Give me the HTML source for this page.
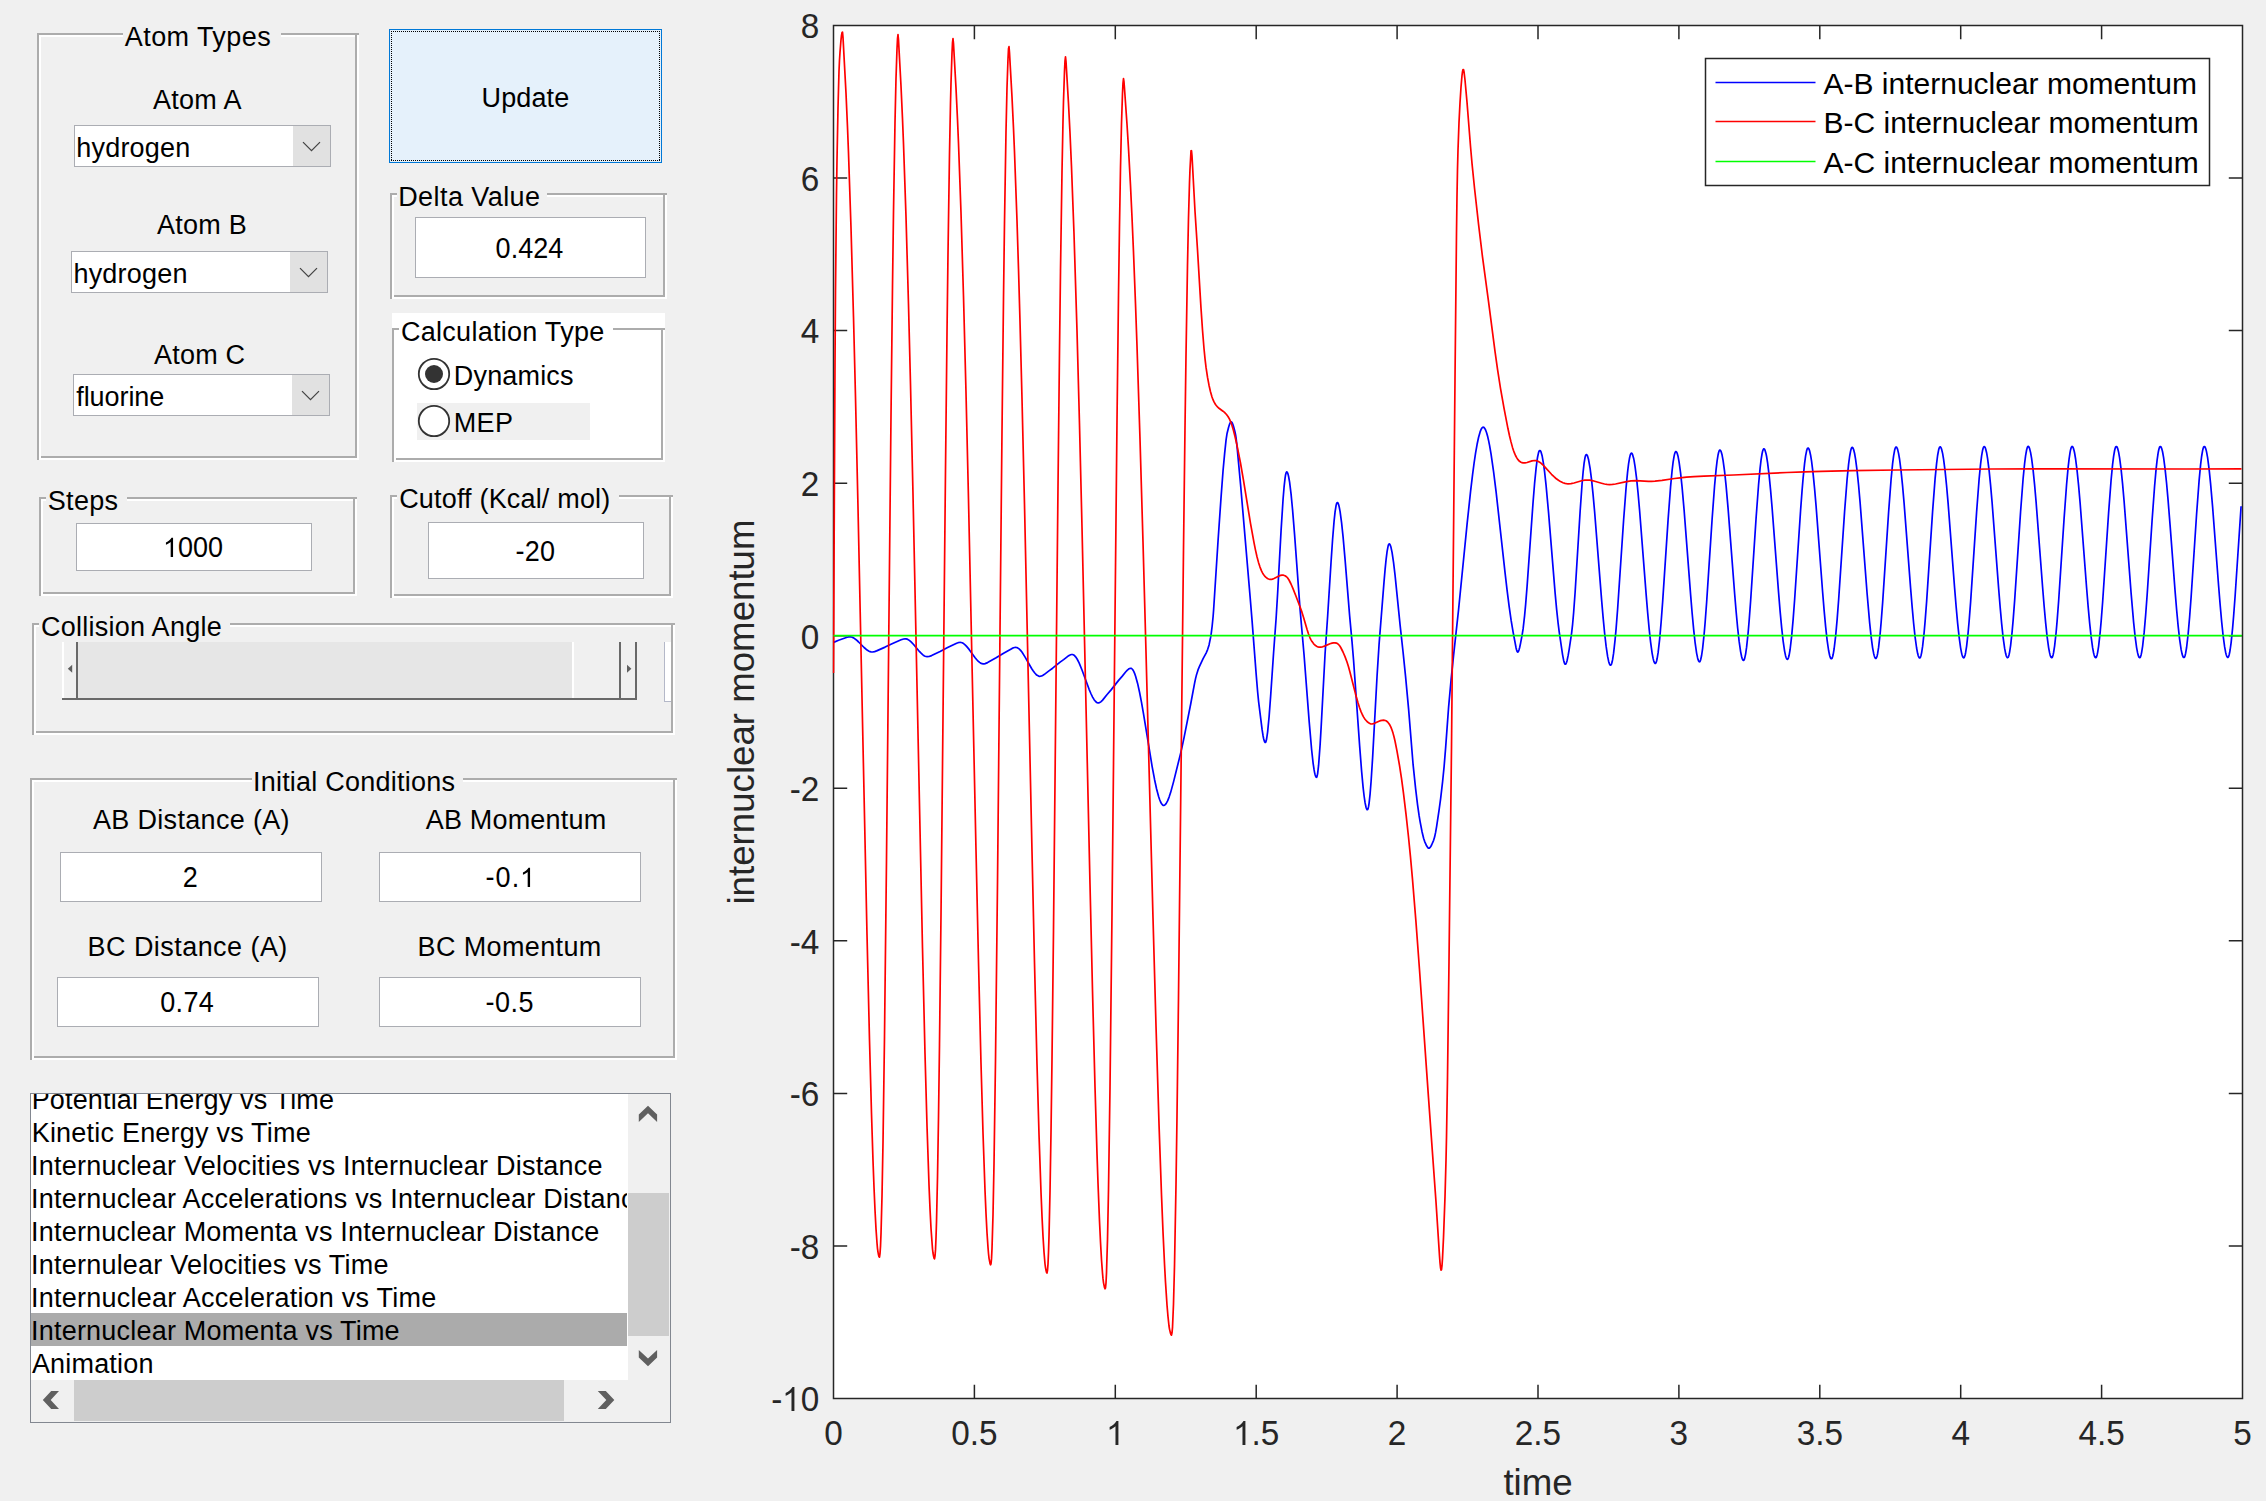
<!DOCTYPE html>
<html><head><meta charset="utf-8"><title>GUI</title>
<style>
html,body{margin:0;padding:0;}
body{width:2266px;height:1501px;background:#f0f0f0;position:relative;overflow:hidden;font-family:"Liberation Sans",sans-serif;}
.a{position:absolute;}
.t{position:absolute;white-space:nowrap;}
</style></head><body>
<div class="a" style="left:39px;top:35px;width:320px;height:425px;border:2px solid #fff;box-sizing:border-box;"></div>
<div class="a" style="left:37px;top:33px;width:320px;height:425px;border:2px solid #acacac;box-sizing:border-box;"></div>
<div class="a" style="left:357px;top:33px;width:2px;height:2px;background:#acacac;"></div>
<div class="a" style="left:37px;top:458px;width:2px;height:2px;background:#acacac;"></div>
<div class="a" style="left:39px;top:456px;width:2px;height:2px;background:#fff;"></div>
<div class="a" style="left:123px;top:33px;width:158px;height:4px;background:#f0f0f0;"></div>
<div class="a" style="left:74px;top:125px;width:257px;height:42px;background:#fff;border:1px solid #abadb3;box-sizing:border-box;"></div>
<div class="a" style="left:293px;top:126px;width:37px;height:40px;background:#e1e1e1;"></div>
<svg class="a" style="left:293px;top:125px" width="38" height="42"><path d="M10.0 17.1 l8.5 8.6 l8.5 -8.6" fill="none" stroke="#444" stroke-width="1.25"/></svg>
<div class="a" style="left:71px;top:251px;width:257px;height:42px;background:#fff;border:1px solid #abadb3;box-sizing:border-box;"></div>
<div class="a" style="left:290px;top:252px;width:37px;height:40px;background:#e1e1e1;"></div>
<svg class="a" style="left:290px;top:251px" width="38" height="42"><path d="M10.0 17.1 l8.5 8.6 l8.5 -8.6" fill="none" stroke="#444" stroke-width="1.25"/></svg>
<div class="a" style="left:73px;top:374px;width:257px;height:42px;background:#fff;border:1px solid #abadb3;box-sizing:border-box;"></div>
<div class="a" style="left:292px;top:375px;width:37px;height:40px;background:#e1e1e1;"></div>
<svg class="a" style="left:292px;top:374px" width="38" height="42"><path d="M10.0 17.1 l8.5 8.6 l8.5 -8.6" fill="none" stroke="#444" stroke-width="1.25"/></svg>
<div class="a" style="left:389px;top:29px;width:273px;height:134px;background:#e5f1fb;border:1px solid #0078d7;box-sizing:border-box;"></div>
<div class="a" style="left:391px;top:31px;width:269px;height:1px;background:repeating-linear-gradient(90deg,#000 0 1px,transparent 1px 2px);"></div>
<div class="a" style="left:391px;top:160px;width:269px;height:1px;background:repeating-linear-gradient(90deg,#000 0 1px,transparent 1px 2px);"></div>
<div class="a" style="left:391px;top:31px;width:1px;height:130px;background:repeating-linear-gradient(180deg,#000 0 1px,transparent 1px 2px);"></div>
<div class="a" style="left:659px;top:31px;width:1px;height:130px;background:repeating-linear-gradient(180deg,#000 0 1px,transparent 1px 2px);"></div>
<div class="a" style="left:392px;top:195px;width:275px;height:104px;border:2px solid #fff;box-sizing:border-box;"></div>
<div class="a" style="left:390px;top:193px;width:275px;height:104px;border:2px solid #acacac;box-sizing:border-box;"></div>
<div class="a" style="left:665px;top:193px;width:2px;height:2px;background:#acacac;"></div>
<div class="a" style="left:390px;top:297px;width:2px;height:2px;background:#acacac;"></div>
<div class="a" style="left:392px;top:295px;width:2px;height:2px;background:#fff;"></div>
<div class="a" style="left:397px;top:193px;width:150px;height:4px;background:#f0f0f0;"></div>
<div class="a" style="left:415px;top:217px;width:231px;height:61px;background:#fff;border:1px solid #abadb3;box-sizing:border-box;"></div>
<div class="a" style="left:392px;top:313px;width:273px;height:149px;background:#fff;"></div>
<div class="a" style="left:394px;top:330px;width:271px;height:132px;border:2px solid #fff;box-sizing:border-box;"></div>
<div class="a" style="left:392px;top:328px;width:271px;height:132px;border:2px solid #acacac;box-sizing:border-box;"></div>
<div class="a" style="left:663px;top:328px;width:2px;height:2px;background:#acacac;"></div>
<div class="a" style="left:392px;top:460px;width:2px;height:2px;background:#acacac;"></div>
<div class="a" style="left:394px;top:458px;width:2px;height:2px;background:#fff;"></div>
<div class="a" style="left:399px;top:328px;width:214px;height:4px;background:#fff;"></div>
<div class="a" style="left:417px;top:403px;width:173px;height:37px;background:#f0f0f0;"></div>
<svg class="a" style="left:416px;top:355.9px" width="36" height="36"><circle cx="18" cy="18" r="15.2" fill="#fff" stroke="#333" stroke-width="1.8"/><circle cx="18" cy="18" r="9" fill="#333"/></svg>
<svg class="a" style="left:416px;top:402.9px" width="36" height="36"><circle cx="18" cy="18" r="15.2" fill="#fff" stroke="#333" stroke-width="1.8"/></svg>
<div class="a" style="left:41px;top:499px;width:316px;height:97px;border:2px solid #fff;box-sizing:border-box;"></div>
<div class="a" style="left:39px;top:497px;width:316px;height:97px;border:2px solid #acacac;box-sizing:border-box;"></div>
<div class="a" style="left:355px;top:497px;width:2px;height:2px;background:#acacac;"></div>
<div class="a" style="left:39px;top:594px;width:2px;height:2px;background:#acacac;"></div>
<div class="a" style="left:41px;top:592px;width:2px;height:2px;background:#fff;"></div>
<div class="a" style="left:46px;top:497px;width:81px;height:4px;background:#f0f0f0;"></div>
<div class="a" style="left:76px;top:523px;width:236px;height:48px;background:#fff;border:1px solid #abadb3;box-sizing:border-box;"></div>
<div class="a" style="left:392px;top:497px;width:281px;height:101px;border:2px solid #fff;box-sizing:border-box;"></div>
<div class="a" style="left:390px;top:495px;width:281px;height:101px;border:2px solid #acacac;box-sizing:border-box;"></div>
<div class="a" style="left:671px;top:495px;width:2px;height:2px;background:#acacac;"></div>
<div class="a" style="left:390px;top:596px;width:2px;height:2px;background:#acacac;"></div>
<div class="a" style="left:392px;top:594px;width:2px;height:2px;background:#fff;"></div>
<div class="a" style="left:397px;top:495px;width:222px;height:4px;background:#f0f0f0;"></div>
<div class="a" style="left:428px;top:522px;width:216px;height:57px;background:#fff;border:1px solid #abadb3;box-sizing:border-box;"></div>
<div class="a" style="left:34px;top:625px;width:641px;height:110px;border:2px solid #fff;box-sizing:border-box;"></div>
<div class="a" style="left:32px;top:623px;width:641px;height:110px;border:2px solid #acacac;box-sizing:border-box;"></div>
<div class="a" style="left:673px;top:623px;width:2px;height:2px;background:#acacac;"></div>
<div class="a" style="left:32px;top:733px;width:2px;height:2px;background:#acacac;"></div>
<div class="a" style="left:34px;top:731px;width:2px;height:2px;background:#fff;"></div>
<div class="a" style="left:39px;top:623px;width:191px;height:4px;background:#f0f0f0;"></div>
<div class="a" style="left:62px;top:642px;width:575px;height:58px;background:#696969;"></div>
<div class="a" style="left:62px;top:642px;width:14px;height:56px;background:#f0f0f0;"></div>
<div class="a" style="left:62px;top:642px;width:2px;height:56px;background:#fff;"></div>
<div class="a" style="left:78px;top:642px;width:494px;height:56px;background:#e6e6e6;"></div>
<div class="a" style="left:572px;top:642px;width:47px;height:56px;background:#f0f0f0;"></div>
<div class="a" style="left:572px;top:642px;width:2px;height:56px;background:#fff;"></div>
<div class="a" style="left:621px;top:642px;width:14px;height:56px;background:#f0f0f0;"></div>
<svg class="a" style="left:62px;top:642px" width="575" height="58"><path d="M10.2 22.8 l0 8 l-4.4 -4 z M565 22.8 l0 8 l4.4 -4 z" fill="#606060"/></svg>
<div class="a" style="left:664px;top:642px;width:7px;height:60px;background:#fff;border-left:1px solid #b4b8c8;border-bottom:1px solid #b4b8c8;box-sizing:border-box;"></div>
<div class="a" style="left:32px;top:780px;width:645px;height:280px;border:2px solid #fff;box-sizing:border-box;"></div>
<div class="a" style="left:30px;top:778px;width:645px;height:280px;border:2px solid #acacac;box-sizing:border-box;"></div>
<div class="a" style="left:675px;top:778px;width:2px;height:2px;background:#acacac;"></div>
<div class="a" style="left:30px;top:1058px;width:2px;height:2px;background:#acacac;"></div>
<div class="a" style="left:32px;top:1056px;width:2px;height:2px;background:#fff;"></div>
<div class="a" style="left:252px;top:778px;width:211px;height:4px;background:#f0f0f0;"></div>
<div class="a" style="left:60px;top:852px;width:262px;height:50px;background:#fff;border:1px solid #abadb3;box-sizing:border-box;"></div>
<div class="a" style="left:379px;top:852px;width:262px;height:50px;background:#fff;border:1px solid #abadb3;box-sizing:border-box;"></div>
<div class="a" style="left:57px;top:977px;width:262px;height:50px;background:#fff;border:1px solid #abadb3;box-sizing:border-box;"></div>
<div class="a" style="left:379px;top:977px;width:262px;height:50px;background:#fff;border:1px solid #abadb3;box-sizing:border-box;"></div>
<div class="a" style="left:30px;top:1093px;width:641px;height:330px;background:#fff;border:1px solid #828790;box-sizing:border-box;"></div>
<div class="a" style="left:628px;top:1094px;width:42px;height:286px;background:#f0f0f0;"></div>
<div class="a" style="left:31px;top:1380px;width:639px;height:42px;background:#f0f0f0;"></div>
<div class="a" style="left:628px;top:1193px;width:41px;height:143px;background:#cdcdcd;"></div>
<div class="a" style="left:74px;top:1380px;width:490px;height:41px;background:#cdcdcd;"></div>
<div class="a" style="left:31px;top:1094px;width:597px;height:286px;background:#fff;"></div>
<div class="a" style="left:31px;top:1313px;width:596px;height:33px;background:#ababab;"></div>
<svg class="a" style="left:0;top:0" width="700" height="1501"><g fill="#606060"><path d="M648 1105.7 L657.1 1114.4 V1122 L648 1113.3 L638.8 1122 V1114.4 Z"/><path d="M648 1366.2 L657.1 1357.6 V1349.9 L648 1358.4 L638.8 1349.9 V1357.6 Z"/><path d="M42.8 1400 L51.2 1391 H59 L50.7 1400 L59 1409 H51.2 Z"/><path d="M614.3 1400 L605.8 1391 H597.8 L606.3 1400 L597.8 1409 H605.8 Z"/></g></svg>
<div class="t" style="left:124.80px;top:21px;height:32px;line-height:32px;font-size:27px;letter-spacing:0.422px;color:#000;">Atom Types</div>
<div class="t" style="left:152.90px;top:84px;height:32px;line-height:32px;font-size:27px;letter-spacing:0.300px;color:#000;">Atom A</div>
<div class="t" style="left:76.30px;top:132px;height:32px;line-height:32px;font-size:27px;letter-spacing:0.200px;color:#000;">hydrogen</div>
<div class="t" style="left:157.00px;top:209px;height:32px;line-height:32px;font-size:27px;letter-spacing:0.240px;color:#000;">Atom B</div>
<div class="t" style="left:73.40px;top:258px;height:32px;line-height:32px;font-size:27px;letter-spacing:0.229px;color:#000;">hydrogen</div>
<div class="t" style="left:154.10px;top:339px;height:32px;line-height:32px;font-size:27px;letter-spacing:0.180px;color:#000;">Atom C</div>
<div class="t" style="left:76.30px;top:381px;height:32px;line-height:32px;font-size:27px;letter-spacing:-0.086px;color:#000;">fluorine</div>
<div class="t" style="left:481.50px;top:82px;height:32px;line-height:32px;font-size:27px;letter-spacing:0.140px;color:#000;">Update</div>
<div class="t" style="left:398.20px;top:181px;height:32px;line-height:32px;font-size:27px;letter-spacing:0.430px;color:#000;">Delta Value</div>
<div class="t" style="left:495.60px;top:233px;height:32px;line-height:32px;font-size:27px;letter-spacing:0.050px;color:#000;transform:scaleY(1.06);transform-origin:0 25px;">0.424</div>
<div class="t" style="left:401.00px;top:316px;height:32px;line-height:32px;font-size:27px;letter-spacing:0.273px;color:#000;">Calculation Type</div>
<div class="t" style="left:453.80px;top:360px;height:32px;line-height:32px;font-size:27px;letter-spacing:0.171px;color:#000;">Dynamics</div>
<div class="t" style="left:453.80px;top:407px;height:32px;line-height:32px;font-size:27px;letter-spacing:0.300px;color:#000;">MEP</div>
<div class="t" style="left:47.80px;top:485px;height:32px;line-height:32px;font-size:27px;letter-spacing:0.300px;color:#000;">Steps</div>
<div class="t" style="left:162.80px;top:532px;height:32px;line-height:32px;font-size:27px;letter-spacing:0.067px;color:#000;transform:scaleY(1.06);transform-origin:0 25px;"><svg style="display:inline-block;width:0.5562em;height:0.7075em;vertical-align:baseline;overflow:visible;margin-right:0.067px" preserveAspectRatio="none" viewBox="0 -1536 1139 1536"><path fill="currentColor" transform="scale(1,-1)" d="M763 0H583V1147Q518 1085 412.5 1023T223 930V1104Q373 1174.5 485 1275T644 1472H763Z"/></svg>000</div>
<div class="t" style="left:399.20px;top:483px;height:32px;line-height:32px;font-size:27px;letter-spacing:0.176px;color:#000;">Cutoff (Kcal/ mol)</div>
<div class="t" style="left:515.50px;top:536px;height:32px;line-height:32px;font-size:27px;letter-spacing:0.250px;color:#000;transform:scaleY(1.06);transform-origin:0 25px;">-20</div>
<div class="t" style="left:41.00px;top:611px;height:32px;line-height:32px;font-size:27px;letter-spacing:0.257px;color:#000;">Collision Angle</div>
<div class="t" style="left:252.90px;top:766px;height:32px;line-height:32px;font-size:27px;letter-spacing:0.241px;color:#000;">Initial Conditions</div>
<div class="t" style="left:92.90px;top:804px;height:32px;line-height:32px;font-size:27px;letter-spacing:0.329px;color:#000;">AB Distance (A)</div>
<div class="t" style="left:425.70px;top:804px;height:32px;line-height:32px;font-size:27px;letter-spacing:0.190px;color:#000;">AB Momentum</div>
<div class="t" style="left:182.75px;top:862px;height:32px;line-height:32px;font-size:27px;letter-spacing:0.000px;color:#000;transform:scaleY(1.06);transform-origin:0 25px;">2</div>
<div class="t" style="left:485.60px;top:862px;height:32px;line-height:32px;font-size:27px;letter-spacing:1.033px;color:#000;transform:scaleY(1.06);transform-origin:0 25px;">-0.<svg style="display:inline-block;width:0.5562em;height:0.7075em;vertical-align:baseline;overflow:visible;margin-right:1.033px" preserveAspectRatio="none" viewBox="0 -1536 1139 1536"><path fill="currentColor" transform="scale(1,-1)" d="M763 0H583V1147Q518 1085 412.5 1023T223 930V1104Q373 1174.5 485 1275T644 1472H763Z"/></svg></div>
<div class="t" style="left:87.60px;top:931px;height:32px;line-height:32px;font-size:27px;letter-spacing:0.443px;color:#000;">BC Distance (A)</div>
<div class="t" style="left:417.50px;top:931px;height:32px;line-height:32px;font-size:27px;letter-spacing:0.380px;color:#000;">BC Momentum</div>
<div class="t" style="left:160.30px;top:987px;height:32px;line-height:32px;font-size:27px;letter-spacing:0.300px;color:#000;transform:scaleY(1.06);transform-origin:0 25px;">0.74</div>
<div class="t" style="left:485.60px;top:987px;height:32px;line-height:32px;font-size:27px;letter-spacing:0.467px;color:#000;transform:scaleY(1.06);transform-origin:0 25px;">-0.5</div>
<div class="a" style="left:31px;top:1094px;width:596px;height:286px;overflow:hidden">
<div class="t" style="left:0.70px;top:-10px;height:32px;line-height:32px;font-size:27px;letter-spacing:0.161px;color:#000;">Potential Energy vs Time</div>
<div class="t" style="left:0.70px;top:23px;height:32px;line-height:32px;font-size:27px;letter-spacing:0.210px;color:#000;">Kinetic Energy vs Time</div>
<div class="t" style="left:0.10px;top:56px;height:32px;line-height:32px;font-size:27px;letter-spacing:0.217px;color:#000;">Internuclear Velocities vs Internuclear Distance</div>
<div class="t" style="left:0.10px;top:89px;height:32px;line-height:32px;font-size:27px;letter-spacing:0.217px;color:#000;">Internuclear Accelerations vs Internuclear Distance</div>
<div class="t" style="left:0.10px;top:122px;height:32px;line-height:32px;font-size:27px;letter-spacing:0.193px;color:#000;">Internuclear Momenta vs Internuclear Distance</div>
<div class="t" style="left:0.10px;top:155px;height:32px;line-height:32px;font-size:27px;letter-spacing:0.214px;color:#000;">Internulear Velocities vs Time</div>
<div class="t" style="left:0.10px;top:188px;height:32px;line-height:32px;font-size:27px;letter-spacing:0.234px;color:#000;">Internuclear Acceleration vs Time</div>
<div class="t" style="left:0.10px;top:221px;height:32px;line-height:32px;font-size:27px;letter-spacing:0.200px;color:#000;">Internuclear Momenta vs Time</div>
<div class="t" style="left:0.90px;top:254px;height:32px;line-height:32px;font-size:27px;letter-spacing:0.188px;color:#000;">Animation</div>
</div>
<svg class="a" style="left:0;top:0" width="2266" height="1501" viewBox="0 0 2266 1501">
<rect x="833.5" y="25.5" width="1409.0" height="1373.0" fill="#fff"/>
<path d="M974.40 1398.5 v-13.7 M974.40 25.5 v13.7 M1115.30 1398.5 v-13.7 M1115.30 25.5 v13.7 M1256.20 1398.5 v-13.7 M1256.20 25.5 v13.7 M1397.10 1398.5 v-13.7 M1397.10 25.5 v13.7 M1538.00 1398.5 v-13.7 M1538.00 25.5 v13.7 M1678.90 1398.5 v-13.7 M1678.90 25.5 v13.7 M1819.80 1398.5 v-13.7 M1819.80 25.5 v13.7 M1960.70 1398.5 v-13.7 M1960.70 25.5 v13.7 M2101.60 1398.5 v-13.7 M2101.60 25.5 v13.7 M833.5 178.06 h13.7 M2242.5 178.06 h-13.7 M833.5 330.61 h13.7 M2242.5 330.61 h-13.7 M833.5 483.17 h13.7 M2242.5 483.17 h-13.7 M833.5 635.72 h13.7 M2242.5 635.72 h-13.7 M833.5 788.28 h13.7 M2242.5 788.28 h-13.7 M833.5 940.83 h13.7 M2242.5 940.83 h-13.7 M833.5 1093.39 h13.7 M2242.5 1093.39 h-13.7 M833.5 1245.94 h13.7 M2242.5 1245.94 h-13.7" fill="none" stroke="#262626" stroke-width="1.5"/>
<rect x="833.5" y="25.5" width="1409.0" height="1373.0" fill="none" stroke="#262626" stroke-width="1.5"/>
<clipPath id="cp"><rect x="832.5" y="24.5" width="1410.2" height="1375.0"/></clipPath><g clip-path="url(#cp)">
<path d="M833.6 642.4 L838.6 640.3 L847.1 637.3 L848.6 636.9 L849.6 636.8 L850.6 636.8 L851.6 637.0 L853.6 637.9 L856.1 639.7 L858.6 642.0 L864.1 647.5 L867.1 650.1 L868.6 651.0 L870.1 651.7 L871.1 651.9 L872.6 652.0 L874.6 651.6 L876.6 650.9 L885.1 647.1 L892.6 643.5 L901.1 639.8 L903.6 639.0 L905.1 638.8 L906.1 638.9 L907.1 639.1 L908.6 639.9 L909.6 640.6 L911.1 641.9 L913.6 644.5 L919.6 651.7 L921.1 653.2 L922.6 654.6 L924.1 655.7 L925.1 656.2 L926.1 656.5 L927.1 656.7 L929.1 656.5 L931.6 655.6 L940.1 651.5 L947.6 647.6 L956.6 643.2 L958.1 642.7 L959.1 642.5 L960.1 642.4 L961.1 642.5 L962.1 642.8 L963.6 643.6 L965.1 644.8 L966.6 646.4 L969.1 649.4 L975.1 657.7 L976.6 659.5 L978.1 661.1 L979.6 662.4 L980.6 663.1 L982.1 663.7 L983.1 663.9 L984.1 663.8 L985.1 663.6 L987.6 662.6 L996.1 657.8 L1003.6 653.2 L1012.1 648.4 L1013.6 647.8 L1014.6 647.5 L1015.6 647.4 L1016.6 647.5 L1017.6 647.9 L1019.1 648.9 L1020.6 650.4 L1022.1 652.3 L1025.1 657.1 L1031.6 668.5 L1033.1 670.8 L1034.6 672.8 L1036.1 674.5 L1037.1 675.3 L1038.6 676.1 L1039.6 676.3 L1040.6 676.2 L1041.6 676.0 L1042.6 675.5 L1044.1 674.6 L1048.6 671.1 L1052.6 668.2 L1060.1 662.1 L1063.6 659.6 L1068.1 656.1 L1069.6 655.2 L1070.6 654.8 L1071.6 654.5 L1072.6 654.5 L1073.1 654.7 L1074.1 655.2 L1075.6 656.8 L1077.1 659.0 L1079.1 662.9 L1082.1 670.2 L1089.1 689.3 L1091.1 694.0 L1092.6 697.1 L1094.1 699.7 L1095.6 701.5 L1096.6 702.4 L1097.1 702.6 L1098.1 702.9 L1099.1 702.8 L1100.1 702.3 L1101.1 701.6 L1102.6 700.1 L1107.1 694.5 L1111.1 689.9 L1118.6 680.4 L1122.1 676.4 L1125.6 672.0 L1127.1 670.4 L1128.6 669.1 L1129.6 668.5 L1130.6 668.3 L1131.1 668.3 L1131.6 668.5 L1132.6 669.5 L1133.6 671.1 L1134.6 673.4 L1135.6 676.2 L1137.6 683.4 L1139.6 692.5 L1141.6 702.9 L1143.6 714.4 L1152.1 766.3 L1154.6 779.7 L1156.6 789.0 L1158.6 796.5 L1159.6 799.5 L1160.6 802.0 L1161.6 803.8 L1162.6 805.0 L1163.1 805.3 L1163.6 805.4 L1164.1 805.3 L1164.6 805.1 L1165.1 804.8 L1166.1 803.6 L1167.6 800.9 L1169.1 797.1 L1170.6 792.6 L1173.6 781.6 L1180.6 753.4 L1182.1 746.9 L1184.1 737.3 L1190.6 704.5 L1194.6 683.1 L1195.6 678.4 L1196.6 674.4 L1198.1 669.7 L1199.6 666.1 L1203.1 658.7 L1206.1 653.1 L1207.6 649.6 L1208.6 646.6 L1209.1 644.7 L1210.6 637.4 L1211.1 634.3 L1212.1 626.5 L1213.1 616.5 L1213.6 610.0 L1218.1 540.0 L1221.1 496.6 L1223.1 470.0 L1224.6 453.8 L1226.1 439.7 L1227.1 433.2 L1228.6 427.2 L1229.6 424.1 L1230.1 423.0 L1230.6 422.2 L1231.1 421.9 L1231.6 422.1 L1232.1 422.6 L1233.1 425.0 L1234.1 428.4 L1235.1 432.4 L1235.6 434.8 L1236.1 438.2 L1237.1 447.1 L1240.6 484.9 L1250.1 596.7 L1252.1 621.1 L1256.1 673.4 L1257.6 691.5 L1258.6 701.6 L1262.1 729.7 L1263.1 736.0 L1263.6 738.5 L1264.1 740.4 L1264.6 741.8 L1265.1 742.4 L1265.6 742.3 L1266.1 741.1 L1266.6 739.0 L1267.6 732.1 L1269.1 716.6 L1270.6 696.6 L1273.6 652.5 L1276.1 618.5 L1277.6 593.7 L1281.1 530.1 L1283.1 498.8 L1284.1 486.7 L1285.1 477.8 L1285.6 474.7 L1286.1 472.8 L1286.6 471.9 L1287.1 472.1 L1287.6 473.0 L1288.1 474.4 L1288.6 476.5 L1289.6 482.2 L1291.1 494.4 L1292.6 510.1 L1294.6 534.9 L1300.1 609.8 L1304.1 655.5 L1309.1 720.6 L1311.6 749.5 L1313.1 763.1 L1314.1 769.9 L1314.6 772.6 L1315.1 774.7 L1315.6 776.2 L1316.1 777.1 L1316.6 777.3 L1317.1 776.2 L1317.6 773.8 L1318.6 765.2 L1320.1 744.9 L1321.1 727.9 L1325.1 653.3 L1327.6 616.7 L1331.1 561.3 L1332.6 539.3 L1334.1 520.9 L1335.1 511.7 L1336.1 505.4 L1336.6 503.5 L1337.1 502.6 L1337.6 502.6 L1338.1 503.3 L1338.6 504.6 L1339.1 506.4 L1340.1 511.6 L1341.6 522.8 L1343.1 537.2 L1345.1 559.9 L1349.6 615.4 L1352.1 642.6 L1353.6 660.7 L1359.6 745.4 L1361.6 771.1 L1363.1 787.3 L1364.1 796.0 L1365.1 802.9 L1366.1 807.5 L1366.6 808.9 L1367.1 809.7 L1367.6 809.7 L1368.1 808.6 L1368.6 806.4 L1369.1 803.1 L1370.1 793.8 L1371.1 781.3 L1372.6 757.9 L1377.1 675.3 L1379.1 643.9 L1384.1 580.9 L1385.1 569.4 L1386.1 559.3 L1387.1 551.4 L1388.1 546.1 L1388.6 544.6 L1389.1 543.9 L1389.6 544.1 L1390.1 544.8 L1390.6 546.1 L1391.1 547.8 L1392.1 552.7 L1393.6 562.9 L1395.1 575.6 L1400.1 625.2 L1403.1 652.4 L1405.6 676.9 L1408.6 709.1 L1413.1 764.7 L1415.6 788.6 L1417.6 805.2 L1419.1 815.7 L1420.1 821.6 L1422.1 832.0 L1423.6 838.3 L1424.6 841.3 L1426.6 845.8 L1427.6 847.4 L1428.1 847.9 L1428.6 848.2 L1429.1 848.2 L1429.6 847.9 L1430.1 847.4 L1430.6 846.8 L1431.6 845.0 L1433.6 840.3 L1434.6 837.1 L1435.6 832.4 L1436.6 826.6 L1439.1 809.9 L1440.6 798.8 L1442.6 781.6 L1444.1 766.7 L1445.6 748.1 L1448.6 707.1 L1451.1 679.6 L1453.6 655.1 L1458.6 609.3 L1467.1 523.9 L1470.6 491.2 L1472.6 474.4 L1474.1 463.0 L1475.6 452.9 L1477.1 444.3 L1478.6 437.2 L1480.1 431.9 L1481.1 429.4 L1481.6 428.5 L1482.1 427.8 L1482.6 427.4 L1483.1 427.2 L1483.6 427.3 L1484.1 427.6 L1484.6 428.2 L1485.6 430.0 L1486.6 432.7 L1487.6 436.3 L1488.6 440.6 L1489.6 445.6 L1491.1 454.4 L1493.6 471.8 L1496.1 491.9 L1505.1 573.1 L1507.1 590.3 L1509.1 606.1 L1511.1 620.2 L1513.1 632.1 L1516.1 648.0 L1516.6 650.0 L1517.1 651.4 L1517.6 652.1 L1518.1 651.9 L1518.6 651.0 L1519.1 649.6 L1519.6 647.8 L1520.6 643.1 L1522.1 635.2 L1523.1 628.9 L1524.6 615.7 L1525.6 604.8 L1527.1 586.1 L1533.1 501.7 L1534.6 483.3 L1536.1 468.1 L1537.1 460.2 L1537.6 457.0 L1538.6 452.4 L1539.1 451.1 L1539.6 450.5 L1540.1 450.5 L1540.6 451.1 L1541.1 452.2 L1542.1 455.7 L1543.6 464.3 L1544.6 471.9 L1546.1 485.6 L1548.6 513.1 L1555.1 592.9 L1556.6 609.2 L1558.1 623.2 L1559.1 631.1 L1562.6 654.8 L1563.6 660.2 L1564.1 662.1 L1564.6 663.5 L1565.1 664.2 L1565.6 664.2 L1566.1 663.5 L1566.6 662.2 L1567.1 660.5 L1568.1 655.7 L1569.1 649.8 L1571.6 633.1 L1572.6 624.3 L1573.6 613.0 L1575.1 592.5 L1580.1 511.8 L1582.1 483.5 L1583.1 472.2 L1584.1 463.2 L1585.1 457.2 L1585.6 455.4 L1586.1 454.6 L1586.6 454.6 L1587.1 455.2 L1587.6 456.2 L1588.6 459.8 L1590.1 468.3 L1591.6 480.2 L1593.1 494.8 L1594.6 511.5 L1601.6 599.9 L1603.1 617.4 L1604.6 633.0 L1606.1 646.2 L1607.6 656.4 L1608.6 661.2 L1609.1 662.9 L1609.6 664.2 L1610.1 664.9 L1610.6 665.2 L1611.1 664.8 L1611.6 663.8 L1612.1 662.1 L1612.6 659.7 L1613.6 653.2 L1615.1 639.7 L1616.1 628.6 L1617.6 609.3 L1623.6 520.3 L1626.1 487.5 L1627.6 471.8 L1628.6 463.7 L1629.6 457.7 L1630.1 455.6 L1630.6 454.1 L1631.1 453.3 L1631.6 453.2 L1632.1 453.7 L1632.6 454.7 L1633.6 458.2 L1634.1 460.6 L1635.1 466.8 L1636.6 478.7 L1638.1 493.5 L1639.6 510.5 L1646.1 593.9 L1647.6 612.0 L1649.1 628.3 L1650.6 642.2 L1652.1 653.1 L1653.1 658.4 L1653.6 660.4 L1654.1 661.9 L1654.6 662.9 L1655.1 663.4 L1655.6 663.3 L1656.1 662.5 L1656.6 661.0 L1657.1 658.8 L1658.1 652.7 L1659.6 639.6 L1661.1 622.5 L1662.6 602.4 L1668.1 519.6 L1670.6 486.4 L1672.1 470.5 L1673.1 462.2 L1674.1 456.1 L1674.6 453.9 L1675.1 452.4 L1675.6 451.6 L1676.1 451.5 L1676.6 452.0 L1677.1 453.1 L1678.1 456.6 L1679.1 462.1 L1680.6 473.2 L1682.1 487.4 L1684.1 510.0 L1690.6 594.6 L1692.1 612.7 L1693.6 628.9 L1695.1 642.6 L1696.6 653.1 L1697.6 657.9 L1698.1 659.7 L1698.6 660.9 L1699.1 661.6 L1699.6 661.8 L1700.1 661.3 L1700.6 660.0 L1701.6 655.5 L1702.6 648.6 L1704.1 634.3 L1705.1 622.7 L1706.6 602.7 L1712.1 519.2 L1714.6 485.5 L1716.1 469.3 L1717.1 460.9 L1718.1 454.7 L1718.6 452.5 L1719.1 451.0 L1719.6 450.1 L1720.1 450.0 L1720.6 450.5 L1721.1 451.6 L1722.1 455.1 L1723.1 460.6 L1724.6 471.7 L1726.1 485.9 L1728.1 508.6 L1734.6 593.2 L1736.1 611.3 L1737.6 627.5 L1739.1 641.2 L1740.6 651.6 L1741.6 656.5 L1742.1 658.3 L1742.6 659.5 L1743.1 660.2 L1743.6 660.4 L1744.1 659.9 L1744.6 658.6 L1745.6 654.1 L1746.6 647.2 L1748.1 633.0 L1749.1 621.3 L1750.6 601.3 L1756.1 517.9 L1758.6 484.2 L1760.1 468.1 L1761.1 459.7 L1762.1 453.5 L1762.6 451.3 L1763.1 449.8 L1763.6 448.9 L1764.1 448.8 L1764.6 449.3 L1765.1 450.4 L1766.1 454.0 L1766.6 456.5 L1767.6 462.8 L1769.1 475.2 L1770.6 490.4 L1772.1 507.8 L1778.6 592.9 L1780.1 611.1 L1781.6 627.2 L1783.1 640.8 L1784.6 651.1 L1785.6 655.9 L1786.1 657.5 L1786.6 658.7 L1787.1 659.3 L1787.6 659.3 L1788.1 658.7 L1788.6 657.3 L1789.1 655.3 L1790.1 649.5 L1791.6 636.6 L1793.1 619.8 L1794.6 600.0 L1800.6 510.2 L1802.1 490.1 L1803.1 478.2 L1804.6 463.4 L1805.6 455.9 L1806.6 450.8 L1807.1 449.2 L1807.6 448.2 L1808.1 448.0 L1808.6 448.4 L1809.1 449.4 L1809.6 450.8 L1810.6 455.2 L1811.6 461.4 L1813.1 473.7 L1814.6 488.8 L1816.1 506.3 L1822.6 591.8 L1824.1 610.1 L1825.6 626.4 L1827.1 640.1 L1828.6 650.5 L1829.6 655.2 L1830.1 656.9 L1830.6 658.1 L1831.1 658.7 L1831.6 658.7 L1832.1 658.1 L1832.6 656.8 L1833.1 654.8 L1834.1 649.0 L1835.6 636.4 L1837.1 619.9 L1838.6 600.3 L1844.6 511.4 L1847.1 479.3 L1848.6 464.2 L1849.6 456.5 L1850.6 451.0 L1851.1 449.1 L1851.6 447.9 L1852.1 447.4 L1852.6 447.6 L1853.1 448.3 L1853.6 449.5 L1854.6 453.5 L1855.6 459.3 L1857.1 470.9 L1858.6 485.5 L1860.1 502.5 L1867.1 593.5 L1869.6 622.4 L1871.1 636.6 L1872.6 647.8 L1873.6 653.2 L1874.1 655.3 L1874.6 656.8 L1875.1 657.9 L1875.6 658.4 L1876.1 658.3 L1876.6 657.4 L1877.1 655.9 L1877.6 653.7 L1878.6 647.4 L1880.1 634.0 L1881.1 622.7 L1882.6 603.1 L1888.6 512.2 L1891.1 479.2 L1892.6 463.7 L1893.6 455.8 L1894.6 450.3 L1895.1 448.5 L1895.6 447.4 L1896.1 447.0 L1896.6 447.3 L1897.1 448.1 L1897.6 449.4 L1898.6 453.6 L1899.6 459.5 L1901.1 471.4 L1902.6 486.2 L1904.1 503.3 L1910.6 588.1 L1912.1 606.4 L1913.6 623.0 L1915.1 637.1 L1916.6 648.0 L1917.6 653.3 L1918.1 655.2 L1918.6 656.7 L1919.1 657.6 L1919.6 658.0 L1920.1 657.8 L1920.6 656.8 L1921.1 655.2 L1921.6 652.8 L1922.6 646.4 L1924.1 632.8 L1925.1 621.4 L1926.6 601.9 L1932.6 511.4 L1935.1 478.6 L1936.6 463.3 L1937.6 455.5 L1938.6 450.1 L1939.1 448.3 L1939.6 447.2 L1940.1 446.8 L1940.6 447.1 L1941.1 447.9 L1941.6 449.2 L1942.6 453.4 L1943.6 459.3 L1945.1 471.2 L1946.6 486.0 L1948.1 503.1 L1954.6 587.9 L1956.1 606.2 L1957.6 622.8 L1959.1 636.9 L1960.6 647.8 L1961.6 653.1 L1962.1 655.0 L1962.6 656.5 L1963.1 657.4 L1963.6 657.8 L1964.1 657.6 L1964.6 656.6 L1965.1 655.0 L1965.6 652.7 L1966.6 646.3 L1968.1 632.8 L1969.1 621.5 L1970.6 602.1 L1976.6 512.1 L1979.1 479.2 L1980.6 463.8 L1981.6 455.8 L1982.6 450.2 L1983.1 448.3 L1983.6 447.0 L1984.1 446.5 L1984.6 446.7 L1985.1 447.4 L1985.6 448.7 L1986.6 452.7 L1987.6 458.6 L1989.1 470.4 L1990.6 485.3 L1992.1 502.5 L1998.6 588.0 L2000.1 606.5 L2001.6 623.2 L2003.1 637.3 L2004.6 648.2 L2005.6 653.3 L2006.1 655.2 L2006.6 656.6 L2007.1 657.4 L2007.6 657.7 L2008.1 657.3 L2008.6 656.3 L2009.1 654.5 L2009.6 652.1 L2010.6 645.6 L2012.1 631.9 L2013.1 620.6 L2014.6 601.1 L2020.6 511.5 L2023.1 478.8 L2024.6 463.5 L2025.6 455.6 L2026.6 450.0 L2027.1 448.1 L2027.6 446.9 L2028.1 446.4 L2028.6 446.6 L2029.1 447.3 L2029.6 448.6 L2030.6 452.6 L2031.6 458.4 L2033.1 470.1 L2034.6 484.9 L2036.1 502.0 L2042.6 587.2 L2044.1 605.7 L2045.6 622.4 L2047.1 636.6 L2048.6 647.6 L2049.6 652.9 L2050.1 654.9 L2050.6 656.4 L2051.1 657.3 L2051.6 657.7 L2052.1 657.5 L2052.6 656.5 L2053.1 654.9 L2053.6 652.5 L2054.6 646.1 L2056.1 632.5 L2057.1 621.1 L2058.6 601.5 L2064.1 518.4 L2066.6 484.2 L2068.1 467.6 L2069.1 458.8 L2070.1 452.1 L2070.6 449.7 L2071.1 447.9 L2071.6 446.8 L2072.1 446.4 L2072.6 446.7 L2073.1 447.5 L2073.6 448.9 L2074.1 450.7 L2074.6 453.0 L2075.6 459.0 L2077.1 470.8 L2078.6 485.7 L2080.1 502.8 L2086.6 587.7 L2088.1 606.1 L2089.6 622.6 L2091.1 636.7 L2092.6 647.7 L2093.6 653.0 L2094.1 654.9 L2094.6 656.4 L2095.1 657.3 L2095.6 657.7 L2096.1 657.5 L2096.6 656.5 L2097.1 654.9 L2097.6 652.6 L2098.6 646.3 L2100.1 632.9 L2101.1 621.8 L2102.6 602.5 L2108.6 512.9 L2111.1 480.0 L2112.6 464.4 L2113.6 456.3 L2114.6 450.5 L2115.1 448.5 L2115.6 447.1 L2116.1 446.5 L2116.6 446.5 L2117.1 447.1 L2117.6 448.3 L2118.6 452.1 L2119.6 457.8 L2121.1 469.4 L2122.6 484.1 L2124.1 501.2 L2131.1 593.1 L2133.6 622.1 L2135.1 636.4 L2136.6 647.6 L2137.6 652.9 L2138.1 654.9 L2138.6 656.3 L2139.1 657.3 L2139.6 657.7 L2140.1 657.5 L2140.6 656.5 L2141.1 654.9 L2141.6 652.6 L2142.6 646.3 L2144.1 632.9 L2145.6 615.6 L2147.1 595.5 L2152.1 520.2 L2154.6 486.0 L2156.1 469.2 L2157.1 460.1 L2158.1 453.1 L2158.6 450.5 L2159.1 448.5 L2159.6 447.1 L2160.1 446.5 L2160.6 446.5 L2161.1 447.1 L2161.6 448.3 L2162.1 449.9 L2162.6 452.0 L2163.6 457.6 L2165.1 469.1 L2166.6 483.5 L2168.1 500.4 L2170.1 525.4 L2175.1 591.4 L2176.6 609.5 L2178.1 625.6 L2179.6 639.1 L2181.1 649.4 L2182.1 654.1 L2182.6 655.7 L2183.1 656.9 L2183.6 657.5 L2184.1 657.5 L2184.6 656.9 L2185.1 655.5 L2185.6 653.4 L2186.6 647.5 L2188.1 634.4 L2189.6 617.3 L2191.1 597.2 L2196.6 514.0 L2199.1 480.6 L2200.6 464.7 L2201.6 456.5 L2202.6 450.6 L2203.1 448.5 L2203.6 447.1 L2204.1 446.5 L2204.6 446.5 L2205.1 447.1 L2205.6 448.3 L2206.1 449.9 L2206.6 452.1 L2207.6 457.7 L2209.1 469.2 L2210.6 483.8 L2212.6 506.8 L2218.6 585.7 L2220.1 604.3 L2221.6 621.1 L2223.1 635.5 L2224.6 646.7 L2225.6 652.2 L2226.1 654.2 L2226.6 655.8 L2227.1 656.8 L2227.6 657.4 L2228.1 657.3 L2228.6 656.5 L2229.1 655.0 L2229.6 652.8 L2230.1 650.0 L2231.1 642.8 L2232.6 628.1 L2233.6 616.3 L2235.1 596.2 L2241.1 506.2" fill="none" stroke="#0000ff" stroke-width="1.7" stroke-linejoin="round"/>
<path d="M833.5 673.0 L835.0 363.5 L835.5 291.4 L836.5 193.4 L837.0 160.0 L838.0 107.9 L839.0 70.9 L839.5 60.0 L840.0 52.4 L841.0 39.8 L841.5 35.4 L842.0 32.7 L842.5 32.2 L843.0 37.4 L846.0 93.2 L847.5 127.3 L848.5 153.0 L851.0 227.7 L853.5 316.7 L855.5 397.3 L858.0 507.6 L867.0 934.4 L869.5 1040.1 L871.5 1113.6 L873.0 1160.6 L874.0 1187.3 L875.0 1210.0 L876.0 1228.9 L877.0 1243.0 L877.5 1248.6 L878.0 1252.1 L878.5 1254.8 L879.0 1256.7 L879.5 1257.2 L880.0 1253.6 L880.5 1246.4 L881.0 1233.9 L882.0 1196.3 L883.0 1142.8 L884.5 1036.9 L886.5 859.8 L891.0 416.0 L892.5 286.4 L893.5 211.9 L895.0 122.2 L896.0 78.6 L897.0 48.9 L897.5 38.7 L898.0 34.6 L898.5 39.9 L901.0 86.0 L902.5 118.9 L903.5 143.8 L906.0 216.6 L908.5 304.4 L910.5 384.3 L913.0 494.5 L922.5 948.1 L925.0 1053.4 L927.0 1125.8 L929.0 1184.9 L930.0 1208.6 L931.0 1228.2 L932.5 1249.0 L933.0 1253.0 L933.5 1255.9 L934.0 1258.0 L934.5 1258.9 L935.0 1256.1 L935.5 1249.9 L936.0 1238.0 L936.5 1222.1 L937.5 1177.6 L938.5 1117.9 L939.5 1044.7 L941.0 915.2 L945.5 469.9 L947.0 333.6 L948.0 253.4 L949.5 153.7 L950.5 103.0 L951.0 82.9 L952.0 53.0 L952.5 42.7 L953.0 38.6 L953.5 43.6 L956.0 88.1 L957.5 119.6 L958.5 143.3 L961.0 212.7 L963.5 296.2 L966.0 392.5 L968.5 499.4 L976.0 850.0 L978.5 962.0 L981.0 1063.3 L983.0 1133.0 L985.0 1190.3 L986.0 1213.4 L987.0 1232.7 L988.0 1247.4 L988.5 1253.5 L989.0 1258.1 L990.0 1263.4 L990.5 1264.8 L991.0 1263.8 L991.5 1258.9 L992.0 1248.6 L993.0 1215.0 L994.0 1164.3 L995.5 1060.5 L997.5 882.9 L1002.0 431.0 L1003.5 298.6 L1004.5 222.6 L1006.0 131.6 L1007.0 87.8 L1008.0 58.7 L1008.5 48.7 L1009.0 46.6 L1009.5 52.6 L1012.0 97.1 L1013.5 128.4 L1014.5 152.0 L1017.0 220.8 L1018.5 268.8 L1020.0 321.6 L1022.0 398.7 L1024.5 504.4 L1032.0 851.3 L1034.5 962.7 L1037.0 1064.0 L1039.0 1134.2 L1041.0 1192.3 L1042.0 1216.3 L1043.0 1236.3 L1044.0 1252.0 L1045.0 1264.0 L1045.5 1267.6 L1046.0 1270.3 L1046.5 1272.3 L1047.0 1273.1 L1047.5 1270.4 L1048.0 1264.1 L1048.5 1252.2 L1049.0 1236.4 L1050.0 1192.1 L1051.0 1132.6 L1052.0 1059.6 L1053.5 930.6 L1058.0 486.7 L1059.5 350.9 L1060.5 270.9 L1062.0 171.5 L1063.0 121.0 L1063.5 100.9 L1064.5 71.1 L1065.0 60.9 L1065.5 56.8 L1066.0 61.3 L1068.5 103.6 L1070.0 133.0 L1071.5 166.9 L1074.0 233.8 L1077.0 330.9 L1079.5 424.4 L1082.0 527.2 L1090.0 884.3 L1092.5 990.5 L1095.0 1086.8 L1097.0 1153.6 L1098.0 1183.0 L1099.5 1221.0 L1100.5 1242.0 L1101.5 1259.7 L1102.5 1273.1 L1103.0 1278.7 L1103.5 1282.6 L1104.5 1287.5 L1105.0 1288.8 L1105.5 1287.8 L1106.0 1283.0 L1106.5 1272.9 L1107.5 1239.8 L1108.5 1190.0 L1110.0 1088.0 L1112.0 913.2 L1117.0 420.8 L1118.5 295.8 L1119.5 225.6 L1120.5 167.8 L1121.5 123.5 L1122.5 93.3 L1123.0 83.0 L1123.5 78.7 L1124.0 82.0 L1124.5 88.5 L1127.0 124.3 L1128.5 148.4 L1130.5 185.6 L1132.0 217.2 L1133.5 252.1 L1135.5 303.7 L1137.0 346.0 L1140.0 439.1 L1143.0 542.0 L1146.0 652.0 L1153.0 917.8 L1156.0 1025.7 L1159.0 1123.9 L1161.5 1194.9 L1163.0 1231.9 L1164.5 1263.8 L1165.5 1282.1 L1167.0 1305.0 L1168.0 1316.6 L1169.0 1326.0 L1169.5 1329.1 L1170.5 1333.3 L1171.0 1334.7 L1171.5 1335.2 L1172.0 1332.8 L1172.5 1327.6 L1173.5 1304.0 L1174.5 1266.0 L1176.0 1184.8 L1177.0 1116.5 L1178.5 998.0 L1183.5 549.6 L1185.0 427.6 L1186.0 355.5 L1187.5 264.9 L1188.5 217.9 L1189.5 182.5 L1190.0 169.2 L1191.0 150.9 L1191.5 150.7 L1192.0 155.8 L1195.0 211.2 L1197.5 249.7 L1201.0 308.1 L1202.5 330.0 L1204.0 348.5 L1205.0 358.7 L1206.0 367.2 L1207.5 377.2 L1209.0 385.2 L1210.5 391.8 L1212.0 397.0 L1213.0 399.7 L1214.0 401.9 L1215.5 404.5 L1216.5 405.8 L1217.5 406.9 L1219.0 408.3 L1223.0 411.2 L1224.5 412.4 L1226.5 414.5 L1228.0 416.5 L1229.5 419.2 L1231.0 422.7 L1232.0 425.5 L1233.5 430.6 L1235.0 436.5 L1237.0 445.3 L1240.5 463.0 L1243.5 480.4 L1250.5 523.3 L1254.0 542.7 L1255.5 550.1 L1257.0 556.7 L1258.5 562.4 L1260.0 567.1 L1261.5 570.9 L1262.5 572.9 L1263.5 574.5 L1264.5 575.8 L1266.0 577.4 L1267.5 578.5 L1268.5 579.0 L1269.5 579.3 L1270.5 579.4 L1271.5 579.3 L1272.5 579.1 L1274.0 578.5 L1279.0 575.9 L1280.5 575.4 L1282.0 575.1 L1283.5 575.2 L1285.0 575.7 L1286.5 576.7 L1287.5 577.8 L1289.0 580.0 L1291.0 584.0 L1293.0 588.6 L1296.0 596.2 L1300.0 606.7 L1302.0 612.4 L1303.5 617.2 L1307.0 629.3 L1308.5 634.0 L1310.0 637.8 L1311.0 639.8 L1312.0 641.6 L1313.5 643.6 L1314.5 644.7 L1315.5 645.6 L1317.0 646.5 L1318.0 646.9 L1319.0 647.1 L1320.5 647.2 L1322.5 646.8 L1324.5 646.1 L1330.0 643.7 L1332.0 643.1 L1333.5 642.8 L1335.0 642.8 L1336.5 643.1 L1338.0 644.0 L1339.0 645.0 L1340.0 646.3 L1341.0 648.0 L1343.0 652.0 L1345.0 656.6 L1347.0 662.0 L1348.5 666.8 L1350.0 672.2 L1355.5 693.9 L1358.0 702.8 L1359.5 707.5 L1361.0 711.6 L1362.5 715.0 L1363.5 716.9 L1365.0 719.2 L1367.0 721.5 L1369.0 723.1 L1370.0 723.6 L1371.0 723.9 L1372.0 724.0 L1373.5 723.7 L1375.0 723.1 L1379.0 721.2 L1380.5 720.6 L1382.0 720.3 L1383.5 720.2 L1384.5 720.3 L1386.0 720.8 L1387.0 721.5 L1388.0 722.4 L1389.0 723.7 L1390.0 725.3 L1391.0 727.4 L1392.0 730.0 L1393.0 733.1 L1394.0 736.8 L1395.0 741.0 L1397.0 751.1 L1399.5 765.4 L1401.5 778.4 L1403.5 793.3 L1406.0 814.2 L1408.5 837.0 L1410.5 857.1 L1412.5 879.3 L1416.0 922.4 L1419.5 969.7 L1428.5 1097.6 L1436.0 1202.0 L1439.5 1255.9 L1440.0 1262.6 L1440.5 1267.5 L1441.0 1270.1 L1441.5 1269.6 L1442.0 1265.6 L1442.5 1258.5 L1443.5 1237.6 L1445.0 1196.9 L1446.0 1160.5 L1446.5 1137.4 L1447.5 1077.9 L1449.0 961.7 L1451.5 747.5 L1455.0 379.5 L1456.5 233.0 L1457.0 195.7 L1457.5 169.1 L1458.0 149.9 L1459.0 122.4 L1460.0 102.9 L1461.0 87.3 L1462.0 75.5 L1462.5 71.6 L1463.0 69.5 L1463.5 69.5 L1464.0 71.6 L1465.0 80.0 L1467.0 102.2 L1470.5 146.3 L1472.0 163.4 L1474.5 188.0 L1478.5 223.9 L1482.5 256.9 L1488.5 301.3 L1495.0 351.4 L1497.5 369.2 L1500.5 388.3 L1504.0 408.2 L1508.0 428.8 L1509.5 435.7 L1511.0 441.9 L1512.5 447.4 L1513.5 450.5 L1514.5 453.2 L1515.5 455.5 L1516.5 457.4 L1518.0 459.7 L1519.5 461.3 L1521.0 462.3 L1522.0 462.7 L1523.0 462.9 L1525.0 462.9 L1527.0 462.5 L1532.0 460.9 L1534.5 460.5 L1536.5 460.7 L1538.0 461.2 L1540.0 462.4 L1542.5 464.5 L1545.0 467.1 L1551.5 474.3 L1554.0 476.7 L1556.0 478.5 L1558.5 480.3 L1560.5 481.6 L1563.0 482.8 L1565.0 483.4 L1566.5 483.7 L1568.0 483.8 L1571.0 483.6 L1574.0 483.0 L1582.5 480.5 L1585.0 480.1 L1587.5 480.0 L1590.0 480.2 L1593.0 480.8 L1601.5 483.2 L1604.5 484.0 L1607.0 484.4 L1609.5 484.6 L1612.5 484.4 L1615.5 484.0 L1626.5 481.6 L1631.0 480.9 L1636.0 480.7 L1648.5 481.3 L1651.5 481.3 L1655.0 481.1 L1662.0 480.4 L1674.5 478.5 L1680.0 477.8 L1686.5 477.1 L1694.0 476.6 L1704.0 476.1 L1733.5 475.0 L1787.0 472.5 L1804.5 471.8 L1821.0 471.3 L1852.5 470.7 L1896.5 470.0 L1992.0 469.0 L2053.0 468.9 L2186.5 469.0 L2241.5 468.8" fill="none" stroke="#ff0000" stroke-width="1.7" stroke-linejoin="round"/>
<path d="M833.5 635.7 L2241.8 635.7" fill="none" stroke="#00ff00" stroke-width="1.7"/></g>
<rect x="1705.5" y="58.5" width="504" height="127" fill="#fff" stroke="#262626" stroke-width="1.5"/>
<path d="M1715.5 82.5 H1815.5" stroke="#0000ff" stroke-width="1.7"/>
<path d="M1715.5 121.5 H1815.5" stroke="#ff0000" stroke-width="1.7"/>
<path d="M1715.5 161.5 H1815.5" stroke="#00ff00" stroke-width="1.7"/>
</svg>
<div class="t" style="left:333.50px;width:1000px;text-align:center;transform:scaleY(1.045);transform-origin:50% 31.55px;top:1414.05px;height:40px;line-height:40px;font-size:33.33px;color:#262626;">0</div>
<div class="t" style="left:474.40px;width:1000px;text-align:center;transform:scaleY(1.045);transform-origin:50% 31.55px;top:1414.05px;height:40px;line-height:40px;font-size:33.33px;color:#262626;">0.5</div>
<div class="t" style="left:615.30px;width:1000px;text-align:center;transform:scaleY(1.045);transform-origin:50% 31.55px;top:1414.05px;height:40px;line-height:40px;font-size:33.33px;color:#262626;"><svg style="display:inline-block;width:0.5562em;height:0.7177em;vertical-align:baseline;overflow:visible;margin-right:0.000px" preserveAspectRatio="none" viewBox="0 -1536 1139 1536"><path fill="currentColor" transform="scale(1,-1)" d="M763 0H583V1147Q518 1085 412.5 1023T223 930V1104Q373 1174.5 485 1275T644 1472H763Z"/></svg></div>
<div class="t" style="left:756.20px;width:1000px;text-align:center;transform:scaleY(1.045);transform-origin:50% 31.55px;top:1414.05px;height:40px;line-height:40px;font-size:33.33px;color:#262626;"><svg style="display:inline-block;width:0.5562em;height:0.7177em;vertical-align:baseline;overflow:visible;margin-right:0.000px" preserveAspectRatio="none" viewBox="0 -1536 1139 1536"><path fill="currentColor" transform="scale(1,-1)" d="M763 0H583V1147Q518 1085 412.5 1023T223 930V1104Q373 1174.5 485 1275T644 1472H763Z"/></svg>.5</div>
<div class="t" style="left:897.10px;width:1000px;text-align:center;transform:scaleY(1.045);transform-origin:50% 31.55px;top:1414.05px;height:40px;line-height:40px;font-size:33.33px;color:#262626;">2</div>
<div class="t" style="left:1038.00px;width:1000px;text-align:center;transform:scaleY(1.045);transform-origin:50% 31.55px;top:1414.05px;height:40px;line-height:40px;font-size:33.33px;color:#262626;">2.5</div>
<div class="t" style="left:1178.90px;width:1000px;text-align:center;transform:scaleY(1.045);transform-origin:50% 31.55px;top:1414.05px;height:40px;line-height:40px;font-size:33.33px;color:#262626;">3</div>
<div class="t" style="left:1319.80px;width:1000px;text-align:center;transform:scaleY(1.045);transform-origin:50% 31.55px;top:1414.05px;height:40px;line-height:40px;font-size:33.33px;color:#262626;">3.5</div>
<div class="t" style="left:1460.70px;width:1000px;text-align:center;transform:scaleY(1.045);transform-origin:50% 31.55px;top:1414.05px;height:40px;line-height:40px;font-size:33.33px;color:#262626;">4</div>
<div class="t" style="left:1601.60px;width:1000px;text-align:center;transform:scaleY(1.045);transform-origin:50% 31.55px;top:1414.05px;height:40px;line-height:40px;font-size:33.33px;color:#262626;">4.5</div>
<div class="t" style="left:1742.50px;width:1000px;text-align:center;transform:scaleY(1.045);transform-origin:50% 31.55px;top:1414.05px;height:40px;line-height:40px;font-size:33.33px;color:#262626;">5</div>
<div class="t" style="left:-180.70px;width:1000px;text-align:right;transform:scaleY(1.045);transform-origin:50% 31.55px;top:7.35px;height:40px;line-height:40px;font-size:33.33px;color:#262626;">8</div>
<div class="t" style="left:-180.70px;width:1000px;text-align:right;transform:scaleY(1.045);transform-origin:50% 31.55px;top:159.91px;height:40px;line-height:40px;font-size:33.33px;color:#262626;">6</div>
<div class="t" style="left:-180.70px;width:1000px;text-align:right;transform:scaleY(1.045);transform-origin:50% 31.55px;top:312.46px;height:40px;line-height:40px;font-size:33.33px;color:#262626;">4</div>
<div class="t" style="left:-180.70px;width:1000px;text-align:right;transform:scaleY(1.045);transform-origin:50% 31.55px;top:465.02px;height:40px;line-height:40px;font-size:33.33px;color:#262626;">2</div>
<div class="t" style="left:-180.70px;width:1000px;text-align:right;transform:scaleY(1.045);transform-origin:50% 31.55px;top:617.57px;height:40px;line-height:40px;font-size:33.33px;color:#262626;">0</div>
<div class="t" style="left:-180.70px;width:1000px;text-align:right;transform:scaleY(1.045);transform-origin:50% 31.55px;top:770.13px;height:40px;line-height:40px;font-size:33.33px;color:#262626;">-2</div>
<div class="t" style="left:-180.70px;width:1000px;text-align:right;transform:scaleY(1.045);transform-origin:50% 31.55px;top:922.68px;height:40px;line-height:40px;font-size:33.33px;color:#262626;">-4</div>
<div class="t" style="left:-180.70px;width:1000px;text-align:right;transform:scaleY(1.045);transform-origin:50% 31.55px;top:1075.24px;height:40px;line-height:40px;font-size:33.33px;color:#262626;">-6</div>
<div class="t" style="left:-180.70px;width:1000px;text-align:right;transform:scaleY(1.045);transform-origin:50% 31.55px;top:1227.80px;height:40px;line-height:40px;font-size:33.33px;color:#262626;">-8</div>
<div class="t" style="left:-180.70px;width:1000px;text-align:right;transform:scaleY(1.045);transform-origin:50% 31.55px;top:1380.35px;height:40px;line-height:40px;font-size:33.33px;color:#262626;">-<svg style="display:inline-block;width:0.5562em;height:0.7177em;vertical-align:baseline;overflow:visible;margin-right:0.000px" preserveAspectRatio="none" viewBox="0 -1536 1139 1536"><path fill="currentColor" transform="scale(1,-1)" d="M763 0H583V1147Q518 1085 412.5 1023T223 930V1104Q373 1174.5 485 1275T644 1472H763Z"/></svg>0</div>
<div class="t" style="left:1038.00px;width:1000px;text-align:center;top:1460.89px;height:44px;line-height:44px;font-size:36.67px;color:#262626;">time</div>
<div class="t" style="left:-245px;top:690px;width:2000px;height:44px;line-height:44px;text-align:center;font-size:36.67px;color:#262626;transform:rotate(-90deg) translateY(-12.71px);transform-origin:50% 50%;">internuclear momentum</div>
<div class="t" style="left:1823.50px;top:66.11px;height:36px;line-height:36px;font-size:30px;color:#000;">A-B internuclear momentum</div>
<div class="t" style="left:1823.50px;top:104.91px;height:36px;line-height:36px;font-size:30px;color:#000;">B-C internuclear momentum</div>
<div class="t" style="left:1823.50px;top:145.00px;height:36px;line-height:36px;font-size:30px;color:#000;">A-C internuclear momentum</div>
</body></html>
